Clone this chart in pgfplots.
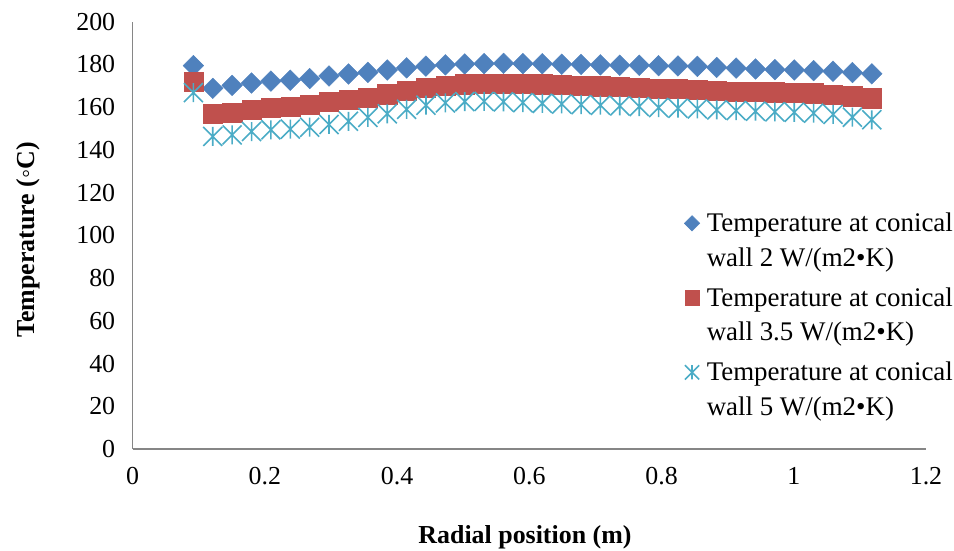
\documentclass[border=0pt]{standalone}
\usepackage{fontspec}
\setmainfont{Liberation Serif}
\usepackage{pgfplots}
\pgfplotsset{compat=1.18}
\usepackage{pgfplotstable}
\definecolor{cblue}{HTML}{4F81BD}
\definecolor{cred}{HTML}{C0504D}
\definecolor{ccyan}{HTML}{4BACC6}
\definecolor{axgray}{HTML}{868686}
\pgfdeclareplotmark{xstar}{%
 \pgfpathmoveto{\pgfqpoint{-\pgfplotmarksize}{-\pgfplotmarksize}}%
 \pgfpathlineto{\pgfqpoint{\pgfplotmarksize}{\pgfplotmarksize}}%
 \pgfpathmoveto{\pgfqpoint{-\pgfplotmarksize}{\pgfplotmarksize}}%
 \pgfpathlineto{\pgfqpoint{\pgfplotmarksize}{-\pgfplotmarksize}}%
 \pgfpathmoveto{\pgfqpoint{0pt}{-\pgfplotmarksize}}%
 \pgfpathlineto{\pgfqpoint{0pt}{\pgfplotmarksize}}%
 \pgfusepathqstroke}
\pgfplotstableread{
r T2 T35 T5
0.0918 179.4 172.1 166.8
0.1211 168.8 156.9 146.3
0.1504 170.2 157.4 147.0
0.1798 171.3 158.7 148.6
0.2091 172.2 159.8 149.4
0.2384 172.6 160.1 149.7
0.2677 173.4 161.3 150.6
0.2970 174.6 162.5 151.9
0.3264 175.5 163.5 153.4
0.3557 176.3 164.6 155.2
0.3850 177.4 166.1 156.9
0.4143 178.4 167.6 159.0
0.4436 179.2 169.0 160.9
0.4730 179.8 170.1 162.0
0.5023 180.2 170.7 162.6
0.5316 180.4 170.9 162.7
0.5609 180.5 170.9 162.5
0.5902 180.4 170.9 162.1
0.6196 180.3 170.7 161.8
0.6489 180.1 170.4 161.5
0.6782 180.0 170.1 161.2
0.7075 179.8 169.8 160.9
0.7368 179.6 169.5 160.6
0.7662 179.6 169.2 160.3
0.7955 179.4 168.8 159.8
0.8248 179.3 168.5 159.5
0.8541 179.1 168.2 159.2
0.8834 178.6 167.8 158.7
0.9128 178.3 167.4 158.4
0.9421 177.9 167.1 158.1
0.9714 177.6 167.0 157.8
1.0007 177.4 166.8 157.6
1.0300 177.1 166.5 157.2
1.0594 176.8 165.9 156.6
1.0887 176.2 165.1 155.3
1.1180 175.6 164.2 154.1
}\datatable
\begin{document}
\begin{tikzpicture}
\path[use as bounding box] (-132.7bp,-102bp) rectangle (821.3bp,449bp);
\begin{axis}[
  scale only axis,
  width=793.3bp, height=427.3bp,
  at={(0,0)}, anchor=south west,
  xmin=0, xmax=1.2, ymin=0, ymax=200,
  xtick={0,0.2,...,1.2}, ytick={0,20,...,200},
  xticklabels={0,0.2,0.4,0.6,0.8,1,1.2},
  axis x line*=bottom, axis y line*=left,
  axis line style={-, draw=axgray, line width=1.3bp},
  major tick length=0pt,
  /pgf/number format/assume math mode=true,
  tick label style={font=\fontsize{26}{31}\selectfont},
  yticklabel style={xshift=-14bp},
  xticklabel style={yshift=-15bp},
  xlabel={Radial position (m)},
  ylabel={Temperature (◦C)},
  xlabel style={font=\fontsize{26}{31}\selectfont\bfseries, at={(axis description cs:0.4945,-0.206)}, anchor=center},
  ylabel style={font=\fontsize{26}{31}\selectfont\bfseries, at={(axis description cs:-0.132,0.489)}, anchor=center, rotate=0},
  legend style={at={(axis description cs:0.6913,0.562)}, anchor=north west, draw=none, fill=none,
    font=\fontsize{27}{34.5}\selectfont, nodes={align=left}, row sep=16bp, column sep=5bp},
  legend cell align=left,
  legend image post style={yshift=17bp, scale=0.75},
  clip=false,
]
\addplot[only marks, mark=square*, mark size=7.3bp, mark options={rotate=45, fill=cblue, draw=cblue}] table[x=r, y=T2] {\datatable};
\addlegendentry{Temperature at conical\\wall 2 W/(m2•K)}
\addplot[only marks, mark=square*, mark size=9.6bp, mark options={fill=cred, draw=cred}] table[x=r, y=T35] {\datatable};
\addlegendentry{Temperature at conical\\wall 3.5 W/(m2•K)}
\addplot[only marks, mark=xstar, mark size=9.5bp, mark options={draw=ccyan, line width=1.6bp}] table[x=r, y=T5] {\datatable};
\addlegendentry{Temperature at conical\\wall 5 W/(m2•K)}
\end{axis}
\end{tikzpicture}
\end{document}
